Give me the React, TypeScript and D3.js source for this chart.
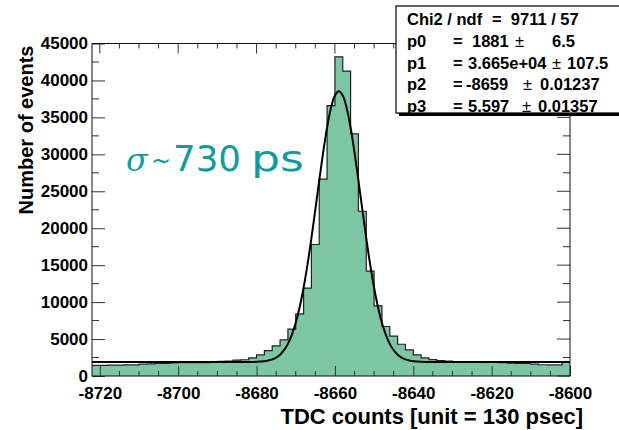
import React, { useEffect, useRef } from "react";
import * as d3 from "d3";

// histogram: 61 bins of width 2 starting at -8722
const binStart = -8722;
const binWidth = 2;
const binCounts = [
	1450, 1450, 1480, 1480, 1500, 1500, 1620, 1640, 1700, 1720,
	1780, 1790, 1800, 1800, 1810, 1950, 1980, 2000, 2150, 2200,
	2450, 2850, 3440, 4080, 4900, 6350, 8400, 11900, 17800, 26650,
	36600, 43200, 41270, 32760, 22300, 14200, 9500, 6700, 5400, 4300,
	3530, 2850, 2450, 2220, 2100, 2000, 1950, 1900, 1880, 1860,
	1850, 1840, 1820, 1750, 1720, 1700, 1600, 1520, 1500, 1500,
	1950,
];

// fitted curve
const fitX = [
	-8722, -8700, -8690, -8684, -8680, -8678,
	-8677, -8676, -8675, -8674, -8673, -8672, -8671, -8670, -8669, -8668,
	-8667, -8666, -8665, -8664, -8663, -8662, -8661, -8660, -8659, -8658,
	-8657, -8656, -8655, -8654, -8653, -8652, -8651, -8650, -8649, -8648,
	-8647, -8646, -8645, -8644, -8643, -8642, -8641,
	-8640, -8638, -8634, -8628, -8618, -8600,
];
const fitY = [
	1881, 1881, 1881, 1883, 1913, 1996,
	2090, 2245, 2500, 2890, 3490, 4350, 5560, 7195, 9310, 11940,
	15080, 18650, 22510, 26470, 30270, 33630, 36270, 37950, 38530, 37950,
	36270, 33630, 30270, 26470, 22510, 18650, 15080, 11940, 9310, 7195,
	5560, 4350, 3490, 2890, 2500, 2245, 2090,
	1996, 1913, 1883, 1881, 1881, 1881,
];

const yTicks = [0, 5000, 10000, 15000, 20000, 25000, 30000, 35000, 40000, 45000];
const xTicks = [-8720, -8700, -8680, -8660, -8640, -8620, -8600];

const statNames = ["p0", "p1", "p2", "p3"];
const statValues = ["1881", "3.665e+04", "-8659", "5.597"];
const statErrors = ["6.5", "107.5", "0.01237", "0.01357"];
const chiText = "=  9711 / 57";

const W = 619;
const H = 430;

const App = () => {
	const svgRef = useRef(null);

	useEffect(() => {
		draw();
	}, []);

	const draw = () => {
		const svg = d3.select(svgRef.current);
		svg.selectAll("*").remove();

		const left = 92,
			right = 570,
			top = 43.5,
			bottom = 376;
		const font = "'Liberation Sans', Arial, Helvetica, sans-serif";

		const x = d3.scaleLinear().domain([-8722, -8600]).range([left, right]);
		const y = d3.scaleLinear().domain([0, 45000]).range([bottom, top]);

		svg.append("rect").attr("width", W).attr("height", H).attr("fill", "white");

		svg
			.append("clipPath")
			.attr("id", "frame")
			.append("rect")
			.attr("x", left)
			.attr("y", top)
			.attr("width", right - left)
			.attr("height", bottom - top);

		// histogram points (edges)
		const pts = binCounts.map((c, i) => [binStart + i * binWidth, c]);
		pts.push([binStart + binCounts.length * binWidth, binCounts[binCounts.length - 1]]);

		const area = d3
			.area()
			.x((d) => x(d[0]))
			.y0(y(0))
			.y1((d) => y(d[1]))
			.curve(d3.curveStepAfter);

		const step = d3
			.line()
			.x((d) => x(d[0]))
			.y((d) => y(d[1]))
			.curve(d3.curveStepAfter);

		const plot = svg.append("g").attr("clip-path", "url(#frame)");

		plot.append("path").attr("d", area(pts)).attr("fill", "#7cc6a4");
		plot
			.append("path")
			.attr("d", step(pts))
			.attr("fill", "none")
			.attr("stroke", "#222")
			.attr("stroke-width", 1.2);

		// fit curve
		const fitLine = d3
			.line()
			.x((d, i) => x(fitX[i]))
			.y((d) => y(d))
			.curve(d3.curveCatmullRom);
		plot
			.append("path")
			.attr("d", fitLine(fitY))
			.attr("fill", "none")
			.attr("stroke", "#000")
			.attr("stroke-width", 2);

		// minor ticks
		const yMinor = d3.range(2500, 45000, 5000);
		const xMinor = d3.range(-8720, -8600, 5).filter((v) => v % 20 !== 0);
		const tickColor = "#333";

		const ticks = svg.append("g").attr("stroke", tickColor).attr("stroke-width", 1);
		yMinor.forEach((v) => {
			ticks.append("line").attr("x1", left).attr("x2", left + 7).attr("y1", y(v)).attr("y2", y(v));
			ticks.append("line").attr("x1", right).attr("x2", right - 7).attr("y1", y(v)).attr("y2", y(v));
		});
		yTicks.forEach((v) => {
			ticks.append("line").attr("x1", right).attr("x2", right - 13).attr("y1", y(v)).attr("y2", y(v));
		});
		xMinor.forEach((v) => {
			ticks.append("line").attr("x1", x(v)).attr("x2", x(v)).attr("y1", bottom).attr("y2", bottom - 5);
			ticks.append("line").attr("x1", x(v)).attr("x2", x(v)).attr("y1", top).attr("y2", top + 5);
		});
		xTicks.forEach((v) => {
			ticks.append("line").attr("x1", x(v)).attr("x2", x(v)).attr("y1", top).attr("y2", top + 10);
		});

		// axes with labels
		const yAxis = svg
			.append("g")
			.attr("transform", `translate(${left},0)`)
			.call(d3.axisLeft(y).tickValues(yTicks).tickSize(-13).tickPadding(4).tickFormat(d3.format("d")));
		const xAxis = svg
			.append("g")
			.attr("transform", `translate(0,${bottom})`)
			.call(d3.axisBottom(x).tickValues(xTicks).tickSize(-10).tickPadding(11).tickFormat(d3.format("d")));

		[yAxis, xAxis].forEach((g) => {
			g.select(".domain").remove();
			g.attr("font-family", font).attr("font-size", 17).attr("font-weight", "bold");
			g.selectAll("line").attr("stroke", tickColor);
			g.selectAll("text").attr("fill", "#000");
		});
		xAxis.selectAll("text").text((d) => String(d).replace("\u2212", "-"));

		// frame
		svg
			.append("rect")
			.attr("x", left)
			.attr("y", top)
			.attr("width", right - left)
			.attr("height", bottom - top)
			.attr("fill", "none")
			.attr("stroke", "#111")
			.attr("stroke-width", 1);

		// axis titles
		svg
			.append("text")
			.attr("x", 583)
			.attr("y", 424)
			.attr("text-anchor", "end")
			.attr("font-family", font)
			.attr("font-weight", "bold")
			.attr("font-size", 22)
			.text("TDC counts [unit = 130 psec]");

		svg
			.append("text")
			.attr("transform", `translate(33,${top + 2}) rotate(-90)`)
			.attr("text-anchor", "end")
			.attr("font-family", font)
			.attr("font-weight", "bold")
			.attr("font-size", 20)
			.text("Number of events");

		// sigma annotation
		const teal = "#0f9c9c";
		const ann = svg.append("g").attr("fill", teal).attr("font-family", "'DejaVu Sans', sans-serif");
		ann
			.append("text")
			.attr("x", 126)
			.attr("y", 171)
			.attr("font-family", "'DejaVu Serif', serif")
			.attr("font-style", "italic")
			.attr("font-size", 32)
			.text("\u03c3");
		ann.append("text").attr("x", 151).attr("y", 169).attr("font-size", 24).text("~");
		ann.append("text").attr("x", 173).attr("y", 171).attr("font-size", 35).attr("textLength", 68).attr("lengthAdjust", "spacingAndGlyphs").text("730");
		ann.append("text").attr("x", 251).attr("y", 171).attr("font-size", 35).attr("textLength", 53).attr("lengthAdjust", "spacingAndGlyphs").text("ps");

		// stats box
		const bx = 396,
			by = 6,
			bw = 240,
			bh = 107;
		svg.append("rect").attr("x", bx + 3).attr("y", by + 3).attr("width", bw).attr("height", bh).attr("fill", "#000");
		svg
			.append("rect")
			.attr("x", bx)
			.attr("y", by)
			.attr("width", bw)
			.attr("height", bh)
			.attr("fill", "#fff")
			.attr("stroke", "#000")
			.attr("stroke-width", 1.2);

		const st = svg
			.append("g")
			.attr("font-family", font)
			.attr("font-weight", "bold")
			.attr("font-size", 16.5)
			.attr("fill", "#000");

		st.append("text").attr("x", 407).attr("y", 25).text("Chi2 / ndf");
		st.append("text").attr("x", 492).attr("y", 25).attr("xml:space", "preserve").text(chiText);

		const rowY = [47, 68.5, 90, 111.5];
		const valX = [472, 468, 466, 468];
		const pmX = [515, 552, 523, 522];
		const errX = [552, 567, 540, 538];
		statNames.forEach((n, i) => {
			st.append("text").attr("x", 407).attr("y", rowY[i]).text(n);
			st.append("text").attr("x", 453).attr("y", rowY[i]).text("=");
			st.append("text").attr("x", valX[i]).attr("y", rowY[i]).text(statValues[i]);
			st.append("text").attr("x", pmX[i]).attr("y", rowY[i]).attr("font-weight", "normal").text("\u00b1");
			st.append("text").attr("x", errX[i]).attr("y", rowY[i]).text(statErrors[i]);
		});
	};

	return (
		<div style={{ position: "absolute", left: 0, top: 0 }}>
			<svg ref={svgRef} width={W} height={H} style={{ display: "block" }}></svg>
		</div>
	);
};

export default App;
